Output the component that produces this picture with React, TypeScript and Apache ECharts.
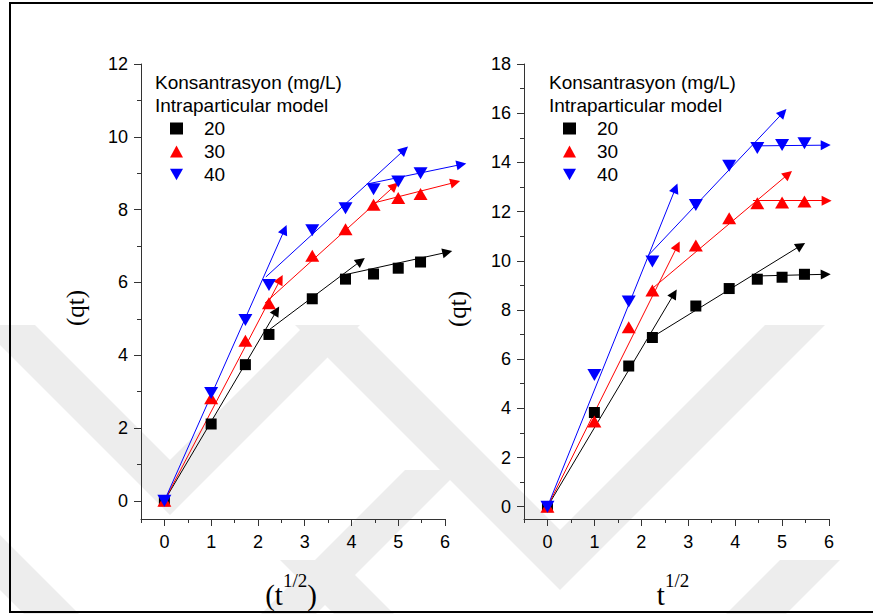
import React, { useEffect, useRef } from 'react';
import * as echarts from 'echarts';

// ---------- data ----------
const tValues = [0, 1, 1.732, 2.236, 3.162, 3.873, 4.472, 5, 5.477];
const seriesNames = ['20', '30', '40'];
const seriesColors = ['#000000', '#ff0000', '#0000ff'];

const left20 = [0, 2.11, 3.74, 4.57, 5.55, 6.09, 6.23, 6.39, 6.56];
const left30 = [0, 2.82, 4.4, 5.43, 6.73, 7.46, 8.13, 8.32, 8.43];
const left40 = [0, 2.96, 4.97, 5.93, 7.43, 8.04, 8.56, 8.77, 9.0];

const right20 = [0, 3.83, 5.72, 6.88, 8.16, 8.87, 9.25, 9.33, 9.45];
const right30 = [0, 3.46, 7.3, 8.79, 10.62, 11.73, 12.34, 12.37, 12.41];
const right40 = [0, 5.36, 8.34, 9.97, 12.27, 13.86, 14.58, 14.71, 14.78];

// intraparticular fit segments: [start, end(arrow tip)]
const fitLeft20 = [[[0, 0], [2.4, 5.22]], [[2.17, 4.63], [4.2, 6.59]], [[3.75, 6.18], [6.05, 6.83]]];
const fitLeft30 = [[[0, 0], [2.48, 6.08]], [[2.15, 5.43], [4.92, 8.65]], [[4.47, 8.18], [6.22, 8.75]]];
const fitLeft40 = [[[0, 0], [2.57, 7.45]], [[2.17, 6.15], [5.13, 9.64]], [[4.36, 8.71], [6.35, 9.24]]];

const fitRight20 = [[[0, 0], [2.7, 8.66]], [[2.236, 6.9], [5.4, 10.62]], [[4.45, 9.38], [5.93, 9.45]]];
const fitRight30 = [[[0, 0], [2.77, 10.6]], [[2.24, 8.88], [5.13, 13.52]], [[4.38, 12.44], [5.95, 12.44]]];
const fitRight40 = [[[0, 0], [2.73, 12.95]], [[2.16, 10.24], [5.02, 16.02]], [[4.38, 14.67], [5.93, 14.7]]];

const xTickLabels = [0, 1, 2, 3, 4, 5, 6];
const xMinorTicks = [-0.5, 0.5, 1.5, 2.5, 3.5, 4.5, 5.5];
const yTicksLeft = [0, 2, 4, 6, 8, 10, 12];
const yMinorLeft = [1, 3, 5, 7, 9, 11];
const yTicksRight = [0, 2, 4, 6, 8, 10, 12, 14, 16, 18];
const yMinorRight = [1, 3, 5, 7, 9, 11, 13, 15, 17];

const legendTitle1 = 'Konsantrasyon (mg/L)';
const legendTitle2 = 'Intraparticular model';
const yTitle = '(qt)';

// ---------- styling ----------
const SANS = "'Liberation Sans', Arial, Helvetica, sans-serif";
const SERIF = "'Liberation Serif', 'Times New Roman', Times, serif";
const AXIS_COLOR = '#333333';
const DOWN_TRI = 'path://M0,0 L10,0 L5,9 Z';
const ARROW = 'path://M5,0 L10,14 L0,14 Z';
const symbols = ['rect', 'triangle', DOWN_TRI];
const symbolSizes: any[] = [11, [14, 12], [14, 12]];

function buildPanel(p: number, yMax: number, yTicks: number[], yMinor: number[], vals: number[][], fits: number[][][][]) {
  const xAxes = [
    {
      type: 'value', gridIndex: p, min: -0.5, max: 6,
      axisLine: { onZero: false, lineStyle: { color: AXIS_COLOR, width: 1 } },
      axisTick: { show: true, inside: false, length: 7, customValues: xTickLabels, lineStyle: { color: AXIS_COLOR } },
      axisLabel: { customValues: xTickLabels, fontSize: 18, fontFamily: SANS, color: '#000', margin: 14 },
      splitLine: { show: false },
    },
    {
      type: 'value', gridIndex: p, min: -0.5, max: 6, position: 'bottom',
      axisLine: { show: false, onZero: false },
      axisTick: { show: true, inside: false, length: 4, customValues: xMinorTicks, lineStyle: { color: AXIS_COLOR } },
      axisLabel: { show: false },
      splitLine: { show: false },
    },
  ];
  const yAxes = [
    {
      type: 'value', gridIndex: p, min: -0.5, max: yMax,
      axisLine: { show: true, onZero: false, lineStyle: { color: AXIS_COLOR, width: 1 } },
      axisTick: { show: true, inside: false, length: 7, customValues: yTicks, lineStyle: { color: AXIS_COLOR } },
      axisLabel: { customValues: yTicks, fontSize: 18, fontFamily: SANS, color: '#000', margin: 13 },
      splitLine: { show: false },
    },
    {
      type: 'value', gridIndex: p, min: -0.5, max: yMax, position: 'left',
      axisLine: { show: false, onZero: false },
      axisTick: { show: true, inside: false, length: 4, customValues: yMinor, lineStyle: { color: AXIS_COLOR } },
      axisLabel: { show: false },
      splitLine: { show: false },
    },
  ];
  const series: any[] = [];
  seriesNames.forEach((name, i) => {
    series.push({
      type: 'lines',
      coordinateSystem: 'cartesian2d',
      xAxisIndex: p * 2,
      yAxisIndex: p * 2,
      polyline: false,
      clip: false,
      silent: true,
      z: 3,
      symbol: ['none', ARROW],
      symbolSize: 10,
      lineStyle: { color: seriesColors[i], width: 1, opacity: 1, curveness: 0 },
      data: fits[i].map((seg) => ({ coords: seg })),
    });
  });
  seriesNames.forEach((name, i) => {
    series.push({
      name,
      type: 'scatter',
      xAxisIndex: p * 2,
      yAxisIndex: p * 2,
      symbol: symbols[i],
      symbolSize: symbolSizes[i],
      itemStyle: { color: seriesColors[i], opacity: 1 },
      z: 5,
      clip: false,
      data: tValues.map((t, k) => [t, vals[i][k]]),
    });
  });
  return { xAxes, yAxes, series };
}

function watermark() {
  const fill = '#ededed';
  const els: any[] = [];
  // chevron (V pointing down): vertex (vx, vy), thickness w, top cut y
  const vee = (vx: number, vy: number, w: number, topY: number) => {
    const L = vy - topY;
    return [
      [vx - L, topY], [vx, vy], [vx + L, topY], [vx + L - w, topY], [vx, vy - w], [vx - L + w, topY],
    ];
  };
  const shapes = [
    vee(170, 515, 55, 325),
    vee(170, 760, 55, 470),
    vee(560, 590, 60, 325),
    vee(560, 840, 60, 560),
  ];
  shapes.forEach((pts) => {
    els.push({ type: 'polygon', z: -10, silent: true, shape: { points: pts }, style: { fill } });
  });
  return els;
}

const App: React.FC = () => {
  const ref = useRef<HTMLDivElement>(null);
  useEffect(() => {
    if (!ref.current) return;
    const chart = echarts.init(ref.current, undefined, { renderer: 'svg' });
    const L = buildPanel(0, 12, yTicksLeft, yMinorLeft, [left20, left30, left40], [fitLeft20, fitLeft30, fitLeft40]);
    const R = buildPanel(1, 18, yTicksRight, yMinorRight, [right20, right30, right40], [fitRight20, fitRight30, fitRight40]);

    const legendData = seriesNames.map((n, i) => ({ name: n, icon: symbols[i] }));
    const legendBase = {
      orient: 'vertical',
      top: 114,
      itemWidth: 13,
      itemHeight: 12,
      itemGap: 4,
      selectedMode: false,
      data: legendData,
      textStyle: { fontSize: 19, fontFamily: SANS, color: '#000', padding: [0, 0, 0, 16] },
    };

    const titleText = (x: number, y: number, text: string) => ({
      type: 'text', x, y, silent: true,
      style: { text, fontSize: 19, fontFamily: SANS, fill: '#000', align: 'left', verticalAlign: 'middle', textAlign: 'left', textVerticalAlign: 'middle' },
    });
    const yTitleText = (x: number, y: number) => ({
      type: 'text', x, y, rotation: Math.PI / 2, silent: true,
      style: { text: yTitle, fontSize: 25, fontFamily: SERIF, fill: '#000', align: 'center', verticalAlign: 'middle', textAlign: 'center', textVerticalAlign: 'middle' },
    });
    const xTitle = (x: number, y: number, withParens: boolean) => ({
      type: 'text', x, y, silent: true,
      style: {
        text: withParens ? '{a|(t}{b|1/2}{a|)}' : '{a|t}{b|1/2}',
        align: 'center', verticalAlign: 'middle', textAlign: 'center', textVerticalAlign: 'middle',
        rich: {
          a: { fontSize: 29, fontFamily: SERIF, fill: '#000', color: '#000', lineHeight: 39, verticalAlign: 'bottom' },
          b: { fontSize: 19, fontFamily: SERIF, fill: '#000', color: '#000', lineHeight: 39, verticalAlign: 'top' },
        },
      },
    });

    const option: any = {
      animation: false,
      backgroundColor: '#ffffff',
      grid: [
        { left: 141, top: 64, width: 304, height: 455, containLabel: false },
        { left: 524, top: 64, width: 305, height: 455, containLabel: false },
      ],
      xAxis: [...L.xAxes, ...R.xAxes],
      yAxis: [...L.yAxes, ...R.yAxes],
      legend: [
        { ...legendBase, left: 165 },
        { ...legendBase, left: 558 },
      ],
      series: [...L.series, ...R.series],
      graphic: [
        ...watermark(),
        {
          type: 'rect', silent: true, z: 10,
          shape: { x: 10, y: 3, width: 900, height: 609 },
          style: { fill: 'none', stroke: '#000', lineWidth: 2 },
        },
        titleText(155, 82, legendTitle1),
        titleText(155, 105, legendTitle2),
        titleText(549, 82, legendTitle1),
        titleText(549, 105, legendTitle2),
        yTitleText(75, 308),
        yTitleText(457, 309),
        xTitle(291, 590, true),
        xTitle(673, 590, false),
      ],
    };
    chart.setOption(option);
    return () => chart.dispose();
  }, []);
  return <div ref={ref} style={{ position: 'fixed', left: 0, top: 0, width: 873, height: 614 }} />;
};

export default App;
